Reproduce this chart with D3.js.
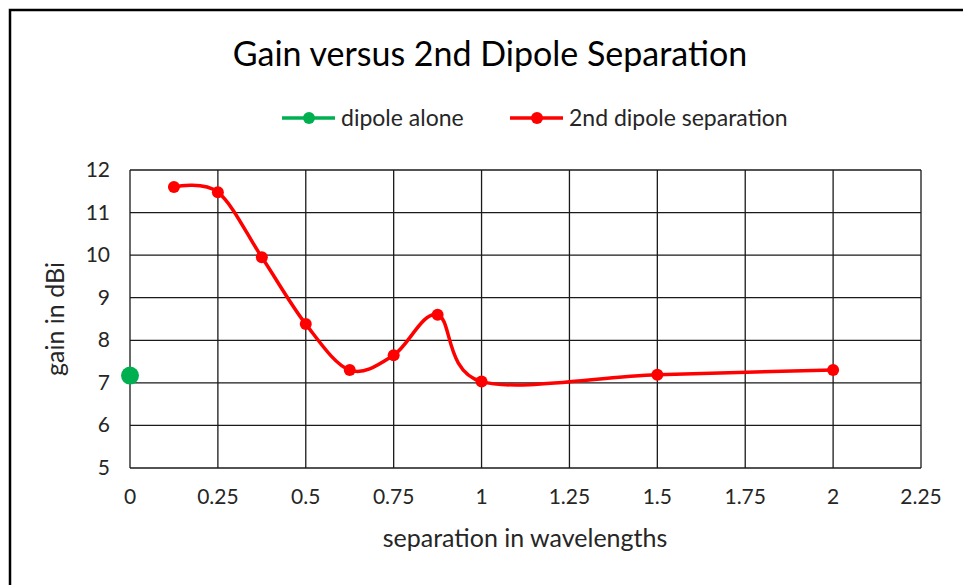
<!DOCTYPE html>
<html>
<head>
<meta charset="utf-8">
<script src="https://cdn.jsdelivr.net/npm/d3@7"></script>
<style>
  body { margin: 0; background: #fff; }
  text { font-family: Lato, "Open Sans", sans-serif; fill: #262626; }
</style>
</head>
<body>
<svg id="chart" width="963" height="585"></svg>
<script>
// values
var separation = [0.125, 0.25, 0.375, 0.5, 0.625, 0.75, 0.875, 1, 1.5, 2]
var gain = [11.6, 11.48, 9.95, 8.38, 7.3, 7.65, 8.6, 7.03, 7.19, 7.3]
var aloneX = [0]
var aloneGain = [7.17]
var xTicks = [0, 0.25, 0.5, 0.75, 1, 1.25, 1.5, 1.75, 2, 2.25]
var yTicks = [5, 6, 7, 8, 9, 10, 11, 12]

var svg = d3.select("#chart")
var plotL = 130, plotR = 921, plotT = 170, plotB = 468

// outer frame
svg.append("rect")
  .attr("x", 10).attr("y", 10).attr("width", 970).attr("height", 600)
  .attr("fill", "none").attr("stroke", "#000").attr("stroke-width", 2.5)

var x = d3.scaleLinear().domain([0, 2.25]).range([plotL, plotR])
var y = d3.scaleLinear().domain([5, 12]).range([plotB, plotT])

var grid = svg.append("g")
grid.selectAll(".vg").data(xTicks).enter().append("line")
  .attr("x1", d => x(d)).attr("x2", d => x(d))
  .attr("y1", plotT).attr("y2", plotB)
  .attr("stroke", "#1a1a1a").attr("stroke-width", 1.3)
grid.selectAll(".hg").data(yTicks).enter().append("line")
  .attr("x1", plotL).attr("x2", plotR)
  .attr("y1", d => y(d)).attr("y2", d => y(d))
  .attr("stroke", "#1a1a1a").attr("stroke-width", 1.3)

// tick labels
svg.append("g").selectAll("text").data(xTicks).enter().append("text")
  .attr("x", d => x(d)).attr("y", 504)
  .attr("text-anchor", "middle").attr("font-size", 21)
  .text(d => d)
svg.append("g").selectAll("text").data(yTicks).enter().append("text")
  .attr("x", 110).attr("y", d => y(d) + 7)
  .attr("text-anchor", "end").attr("font-size", 21)
  .text(d => d)

// titles
svg.append("text").attr("x", 490).attr("y", 66)
  .attr("text-anchor", "middle").attr("font-size", 34)
  .style("fill", "#000")
  .text("Gain versus 2nd Dipole Separation")
svg.append("text").attr("x", 525).attr("y", 547)
  .attr("text-anchor", "middle").attr("font-size", 25)
  .text("separation in wavelengths")
svg.append("text")
  .attr("transform", "translate(64,319) rotate(-90)")
  .attr("text-anchor", "middle").attr("font-size", 25)
  .text("gain in dBi")

// series
var pts = separation.map((s, i) => [s, gain[i]])
var line = d3.line().x(d => x(d[0])).y(d => y(d[1])).curve(d3.curveCardinal.tension(0))
svg.append("path").datum(pts)
  .attr("d", line).attr("fill", "none")
  .attr("stroke", "#ff0000").attr("stroke-width", 3.5)
svg.append("g").selectAll("circle").data(pts).enter().append("circle")
  .attr("cx", d => x(d[0])).attr("cy", d => y(d[1])).attr("r", 6)
  .attr("fill", "#ff0000")

svg.append("g").selectAll("circle").data(aloneX).enter().append("circle")
  .attr("cx", d => x(d)).attr("cy", (d, i) => y(aloneGain[i])).attr("r", 9)
  .attr("fill", "#00b050")

// legend
var legend = [
  {name: "dipole alone", color: "#00b050", x: 282},
  {name: "2nd dipole separation", color: "#ff0000", x: 510}
]
var lg = svg.append("g").selectAll("g").data(legend).enter().append("g")
  .attr("transform", d => "translate(" + d.x + ",118)")
lg.append("line").attr("x1", 0).attr("x2", 53)
  .attr("stroke", d => d.color).attr("stroke-width", 3.5)
lg.append("circle").attr("cx", 27).attr("r", 6).attr("fill", d => d.color)
lg.append("text").attr("x", 59).attr("y", 7.5).attr("font-size", 23)
  .text(d => d.name)
</script>
</body>
</html>
